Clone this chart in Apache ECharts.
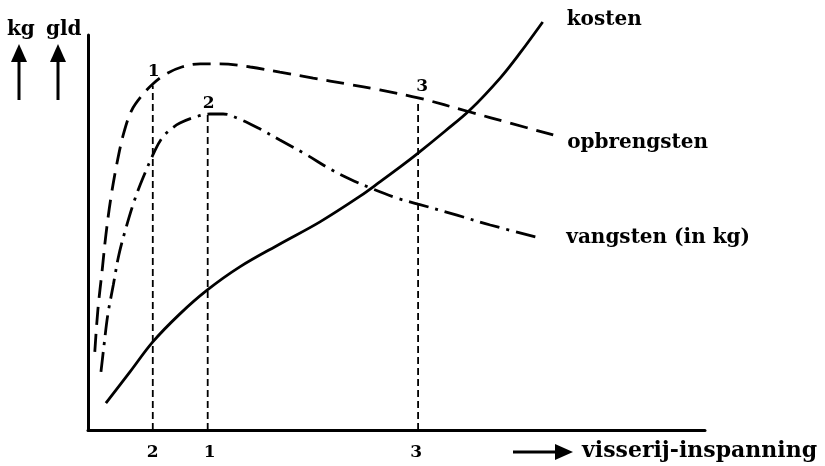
<!DOCTYPE html>
<html>
<head>
<meta charset="utf-8">
<script src="https://cdn.jsdelivr.net/npm/echarts@6/dist/echarts.min.js"></script>
<style>
html,body{margin:0;padding:0;background:#fff;}
#chart{width:825px;height:466px;}
</style>
</head>
<body>
<div id="chart"></div>
<script>
// Effort (x) and value (y) in relative units 0..100
const kostenX = [2.9, 6.8, 10.5, 14.9, 19.3, 24.6, 31.1, 37.6, 44.1, 47.3, 50.6, 53.5, 57.9, 61.9, 66.8, 70.0, 73.7];
const kostenY = [6.8, 14.7, 22.3, 29.4, 35.4, 41.3, 47.1, 52.7, 59.2, 62.8, 66.6, 70.1, 75.7, 81.0, 89.1, 95.4, 103.3];

const opbrengstenX = [1.1, 1.6, 2.3, 2.9, 3.7, 4.7, 5.8, 7.1, 8.8, 10.5, 12.6, 15.2, 18.2, 21.4, 26.3, 31.1, 36.5, 42.0, 47.3, 53.5, 61.9, 68.4, 75.4];
const opbrengstenY = [19.8, 30.4, 40.5, 49.4, 58.7, 67.6, 75.2, 81.0, 84.8, 87.6, 90.1, 91.9, 92.7, 92.7, 91.9, 90.6, 89.1, 87.6, 86.1, 84.1, 80.5, 77.7, 74.7];

const vangstenX = [2.1, 2.6, 3.2, 4.1, 5.0, 6.2, 7.5, 8.9, 10.9, 12.0, 13.3, 14.9, 17.3, 19.8, 21.9, 24.6, 27.9, 31.1, 35.5, 39.2, 42.5, 46.2, 50.1, 53.5, 59.8, 65.2, 73.3];
const vangstenY = [14.7, 21.5, 29.1, 36.7, 44.3, 51.4, 58.0, 63.8, 70.9, 73.9, 76.0, 77.7, 79.2, 80.0, 80.0, 78.7, 76.2, 73.4, 69.6, 66.1, 63.5, 61.0, 58.7, 57.2, 54.4, 51.9, 48.6];

// Reference points: top label, x position, height where the guide meets the curve, bottom label
const guideTopLabels = ['1', '2', '3'];
const guideX = [10.5, 19.4, 53.5];
const guideTop = [87.2, 80.0, 83.5];
const guideBottomLabels = ['2', '1', '3'];

const seriesNames = ['kosten', 'opbrengsten', 'vangsten (in kg)'];
const axisUnits = ['kg', 'gld'];
const xAxisTitle = 'visserij-inspanning';

const zip = (xs, ys) => xs.map((x, i) => [x, ys[i]]);
const FONT = 'DejaVu Serif';

const chart = echarts.init(document.getElementById('chart'), null, {renderer: 'canvas'});

const curveLabel = (dx, dy) => ({
  show: true,
  formatter: '{a}',
  color: '#000',
  fontFamily: FONT,
  fontWeight: 'bold',
  fontSize: 20,
  distance: dx,
  offset: [0, dy]
});

const series = [
  {
    name: seriesNames[0], type: 'line', data: zip(kostenX, kostenY),
    smooth: 0.35, symbol: 'none', clip: false,
    lineStyle: {color: '#000', width: 2.8},
    endLabel: curveLabel(24, -2)
  },
  {
    name: seriesNames[1], type: 'line', data: zip(opbrengstenX, opbrengstenY),
    smooth: 0.35, symbol: 'none', clip: false,
    lineStyle: {color: '#000', width: 2.8, type: [18, 9]},
    endLabel: curveLabel(14, 8)
  },
  {
    name: seriesNames[2], type: 'line', data: zip(vangstenX, vangstenY),
    smooth: 0.35, symbol: 'none', clip: false,
    lineStyle: {color: '#000', width: 2.8, type: [20, 7, 3, 7]},
    endLabel: curveLabel(26, 0)
  }
];

guideX.forEach((gx, i) => {
  series.push({
    type: 'line', data: [[gx, 0], [gx, guideTop[i]]],
    symbol: 'none', clip: false, silent: true,
    lineStyle: {color: '#000', width: 1.8, type: [7, 4]}
  });
});

const numLabel = {color: '#000', opacity: 1, fontFamily: FONT, fontWeight: 'bold', fontSize: 17, formatter: '{b}'};

series.push({
  type: 'scatter', clip: false, silent: true, symbolSize: 0,
  itemStyle: {color: '#000', opacity: 1},
  data: guideX.map((gx, i) => ({
    value: [gx, guideTop[i]], name: guideTopLabels[i],
    label: {distance: i === 1 ? 2 : 5, offset: [i === 2 ? 4 : 1, 0]}
  })),
  label: Object.assign({show: true, position: 'top'}, numLabel)
});

series.push({
  type: 'scatter', clip: false, silent: true, symbolSize: 0,
  itemStyle: {color: '#000', opacity: 1},
  data: guideX.map((gx, i) => ({
    value: [gx, 0], name: guideBottomLabels[i],
    label: {offset: [i === 1 ? 2 : (i === 2 ? -2 : 0), 0]}
  })),
  label: Object.assign({show: true, position: 'bottom', distance: 14}, numLabel)
});

const arrowUp = (x) => [
  {type: 'line', shape: {x1: x, y1: 100, x2: x, y2: 60}, style: {stroke: '#000', lineWidth: 3}},
  {type: 'polygon', shape: {points: [[x, 44], [x - 8, 62], [x + 8, 62]]}, style: {fill: '#000'}}
];

chart.setOption({
  animation: false,
  backgroundColor: '#fff',
  grid: {left: 88, right: 120, top: 35, bottom: 36},
  xAxis: {
    type: 'value', min: 0, max: 100,
    axisLine: {show: true, lineStyle: {color: '#000', width: 3}},
    axisTick: {show: false}, axisLabel: {show: false}, splitLine: {show: false}
  },
  yAxis: {
    type: 'value', min: 0, max: 100,
    axisLine: {show: true, lineStyle: {color: '#000', width: 3}},
    axisTick: {show: false}, axisLabel: {show: false}, splitLine: {show: false}
  },
  series: series,
  graphic: [
    {type: 'text', left: 7, top: 20, style: {text: axisUnits[0], font: 'bold 20px "' + FONT + '"', fill: '#000'}},
    {type: 'text', left: 46, top: 20, style: {text: axisUnits[1], font: 'bold 20px "' + FONT + '"', fill: '#000'}},
    ...arrowUp(19),
    ...arrowUp(58),
    {type: 'line', shape: {x1: 513, y1: 452, x2: 558, y2: 452}, style: {stroke: '#000', lineWidth: 3}},
    {type: 'polygon', shape: {points: [[573, 452], [555, 444], [555, 460]]}, style: {fill: '#000'}},
    {type: 'text', left: 582, top: 440, style: {text: xAxisTitle, font: 'bold 22px "' + FONT + '"', fill: '#000'}}
  ]
});
</script>
</body>
</html>
